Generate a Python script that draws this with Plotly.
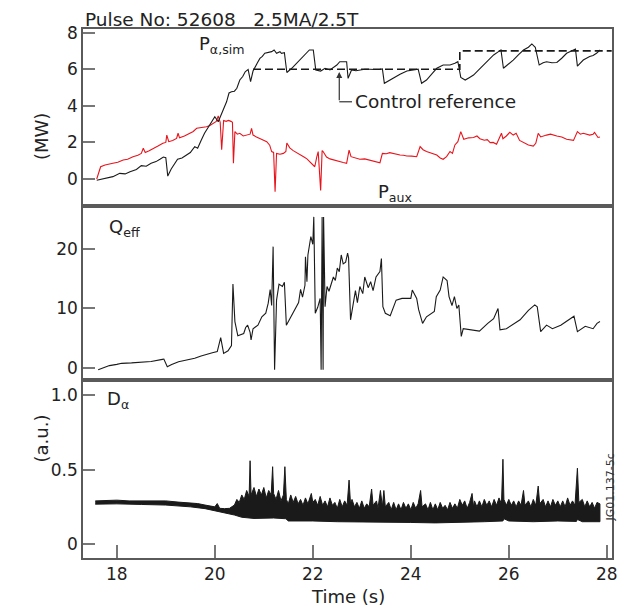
import plotly.graph_objects as go

# ---------------- data ----------------
PALPHA_T = [17.59, 17.75, 17.92, 18.06, 18.17, 18.27, 18.40, 18.50, 18.60, 18.70,
            18.80, 18.88, 18.95, 19.00, 19.04, 19.11, 19.18, 19.24, 19.33, 19.41,
            19.50, 19.59, 19.65, 19.72, 19.79, 19.86, 19.93, 20.00, 20.07, 20.12,
            20.17, 20.24, 20.29, 20.34, 20.40, 20.45, 20.51, 20.57, 20.62, 20.68,
            20.73, 20.78, 20.82, 20.87, 20.92, 20.97, 21.02, 21.09, 21.16, 21.21,
            21.26, 21.33, 21.36, 21.42, 21.47, 21.57, 21.67, 21.78, 21.88, 21.93,
            22.01, 22.06, 22.16, 22.25, 22.35, 22.42, 22.49, 22.55, 22.62, 22.69,
            22.72, 22.79, 22.88, 22.96, 23.06, 23.16, 23.26, 23.37, 23.42, 23.46,
            23.57, 23.68, 23.78, 23.92, 24.09, 24.15, 24.22, 24.32, 24.43, 24.53,
            24.66, 24.80, 24.90, 24.96, 25.02, 25.11, 25.20, 25.28, 25.38, 25.48,
            25.58, 25.69, 25.79, 25.84, 25.89, 25.99, 26.09, 26.20, 26.30, 26.40,
            26.47, 26.54, 26.62, 26.70, 26.77, 26.88, 26.98, 27.08, 27.18, 27.32,
            27.36, 27.40, 27.52, 27.65, 27.72, 27.79, 27.86]
PALPHA_V = [-0.07, 0.02, 0.13, 0.31, 0.28, 0.40, 0.52, 0.73, 0.70, 0.86,
            0.95, 1.08, 1.20, 1.17, 0.16, 0.55, 0.86, 1.08, 1.15, 1.31,
            1.45, 1.77, 1.68, 2.10, 2.50, 2.80, 3.13, 3.40, 3.13, 3.50,
            3.77, 4.22, 4.70, 4.77, 4.80, 4.96, 5.41, 5.60, 5.86, 5.99,
            5.32, 5.90, 6.14, 6.35, 6.59, 6.70, 6.87, 6.90, 6.96, 7.05,
            6.87, 6.96, 6.87, 6.90, 5.82, 6.05, 6.32, 6.60, 6.87, 7.05,
            7.05, 5.96, 5.90, 6.05, 5.96, 6.10, 6.23, 6.41, 6.41, 6.41,
            5.50, 5.96, 5.92, 5.96, 6.00, 6.00, 5.98, 6.00, 6.02, 5.23,
            5.41, 5.55, 5.72, 5.90, 5.96, 6.00, 5.23, 5.41, 5.75, 6.05,
            6.23, 6.23, 6.32, 6.41, 5.55, 5.41, 5.55, 5.68, 5.95, 6.23,
            6.50, 6.78, 6.96, 7.05, 6.05, 6.25, 6.50, 6.80, 7.05, 7.20,
            7.38, 7.20, 6.23, 6.35, 6.41, 6.35, 6.37, 6.60, 6.87, 7.05,
            7.10, 6.17, 6.50, 6.69, 6.75, 6.87, 7.05]

PAUX_T = [17.59, 17.63, 17.67, 17.76, 17.85, 17.92, 18.02, 18.13, 18.22, 18.33,
          18.43, 18.50, 18.54, 18.58, 18.66, 18.74, 18.84, 18.94, 19.00, 19.02,
          19.06, 19.14, 19.22, 19.25, 19.28, 19.38, 19.49, 19.56, 19.63, 19.73,
          19.83, 19.90, 19.97, 20.03, 20.07, 20.11, 20.14, 20.18, 20.23, 20.28,
          20.33, 20.36, 20.38, 20.41, 20.46, 20.51, 20.58, 20.65, 20.72, 20.75,
          20.78, 20.85, 20.92, 20.99, 21.06, 21.12, 21.16, 21.20, 21.23, 21.26,
          21.33, 21.40, 21.45, 21.47, 21.53, 21.60, 21.67, 21.74, 21.82, 21.88,
          21.94, 21.99, 22.04, 22.08, 22.11, 22.16, 22.19, 22.21, 22.28, 22.35,
          22.42, 22.48, 22.55, 22.62, 22.69, 22.74, 22.78, 22.87, 22.96, 23.06,
          23.16, 23.26, 23.37, 23.42, 23.50, 23.57, 23.68, 23.78, 23.85, 23.92,
          24.02, 24.12, 24.19, 24.25, 24.32, 24.42, 24.53, 24.60, 24.66, 24.73,
          24.80, 24.85, 24.90, 24.96, 25.02, 25.08, 25.18, 25.28, 25.35, 25.41,
          25.50, 25.56, 25.62, 25.68, 25.75, 25.85, 25.88, 25.95, 26.02, 26.09,
          26.15, 26.22, 26.30, 26.40, 26.50, 26.55, 26.60, 26.65, 26.77, 26.85,
          26.98, 27.08, 27.18, 27.25, 27.32, 27.40, 27.46, 27.52, 27.58, 27.65,
          27.72, 27.75, 27.82, 27.86]
PAUX_V = [0.00, 0.40, 0.67, 0.77, 0.80, 0.86, 0.92, 1.04, 1.08, 1.22,
          1.30, 1.40, 1.68, 1.45, 1.55, 1.68, 1.80, 1.95, 2.00, 2.40,
          2.04, 2.10, 2.22, 2.50, 2.25, 2.35, 2.50, 2.60, 2.77, 2.80,
          2.86, 2.92, 3.04, 3.15, 3.45, 3.10, 1.60, 3.20, 3.15, 3.20,
          3.15, 3.10, 0.86, 2.59, 2.45, 2.50, 2.35, 2.40, 2.45, 2.77,
          2.40, 2.30, 2.22, 2.15, 2.04, 1.85, 1.50, 1.45, -0.69, 1.40,
          1.35, 1.40, 1.50, 1.97, 1.70, 1.55, 1.45, 1.31, 1.20, 1.10,
          0.95, 0.85, 0.67, 1.20, 1.50, -0.62, 1.55, 1.50, 1.20, 1.10,
          1.04, 1.00, 0.95, 0.90, 0.86, 1.58, 1.22, 1.15, 1.08, 1.10,
          1.04, 0.98, 0.89, 1.40, 1.38, 1.44, 1.35, 1.31, 1.30, 1.26,
          1.25, 1.22, 1.77, 1.60, 1.50, 1.40, 1.31, 1.15, 1.08, 1.22,
          1.50, 1.40, 1.86, 2.04, 2.59, 2.17, 2.25, 2.27, 2.35, 2.20,
          2.12, 2.15, 1.99, 2.00, 1.90, 2.50, 2.20, 2.35, 2.55, 2.40,
          2.50, 2.11, 2.00, 1.86, 1.80, 1.95, 2.50, 2.30, 2.40, 2.45,
          2.35, 2.30, 2.17, 2.15, 2.11, 2.59, 2.45, 2.50, 2.45, 2.40,
          2.45, 2.55, 2.27, 2.30]

CONTROL_T = [20.78, 25.0, 25.0, 28.1]
CONTROL_V = [6.0, 6.0, 7.0, 7.0]

QEFF_T = [17.62, 17.75, 17.85, 18.00, 18.10, 18.30, 18.52, 18.70, 18.93, 18.96,
          19.03, 19.12, 19.26, 19.45, 19.59, 19.72, 19.84, 19.95, 20.05, 20.09,
          20.12, 20.18, 20.27, 20.34, 20.37, 20.41, 20.47, 20.59, 20.63, 20.67,
          20.72, 20.74, 20.78, 20.88, 20.96, 21.04, 21.09, 21.13, 21.16, 21.19,
          21.22, 21.26, 21.31, 21.38, 21.42, 21.46, 21.55, 21.67, 21.71, 21.75,
          21.79, 21.84, 21.85, 21.88, 21.90, 21.96, 22.00, 22.02, 22.03, 22.05,
          22.10, 22.15, 22.17, 22.19, 22.21, 22.22, 22.25, 22.29, 22.33, 22.42,
          22.46, 22.50, 22.54, 22.58, 22.62, 22.67, 22.71, 22.73, 22.77, 22.83,
          22.87, 22.91, 22.96, 23.02, 23.06, 23.13, 23.18, 23.23, 23.29, 23.37,
          23.40, 23.43, 23.48, 23.58, 23.70, 23.82, 24.00, 24.03, 24.12, 24.16,
          24.24, 24.32, 24.48, 24.52, 24.60, 24.66, 24.74, 24.78, 24.84, 24.89,
          24.94, 24.98, 25.03, 25.07, 25.24, 25.40, 25.57, 25.69, 25.78, 25.82,
          25.95, 26.07, 26.23, 26.40, 26.53, 26.58, 26.65, 26.77, 26.89, 27.06,
          27.22, 27.33, 27.40, 27.56, 27.72, 27.80, 27.86]
QEFF_V = [-0.30, 0.10, 0.40, 0.60, 0.78, 0.85, 0.95, 1.10, 1.45, 1.50,
          0.20, 0.60, 1.06, 1.35, 1.62, 2.00, 2.35, 2.55, 2.75, 4.15,
          5.10, 2.45, 2.90, 3.75, 14.1, 7.80, 5.40, 5.80, 6.80, 7.20,
          6.00, 4.70, 6.60, 7.20, 8.60, 9.20, 10.9, 13.2, 10.5, 20.4,
          -0.30, 11.4, 14.1, 13.7, 14.4, 7.20, 8.60, 10.3, 11.0, 13.2,
          11.9, 13.9, 18.7, 14.5, 19.0, 22.1, 20.8, 25.4, 20.0, 9.20,
          10.2, 11.7, -0.30, 25.4, -0.30, 25.4, 10.3, 13.7, 12.9, 15.3,
          14.7, 16.8, 16.2, 19.0, 17.5, 17.8, 19.3, 18.5, 8.10, 11.4,
          13.0, 11.0, 13.7, 12.5, 15.3, 13.5, 14.5, 13.0, 15.3, 16.2,
          18.4, 10.3, 9.20, 8.80, 11.4, 11.7, 11.7, 13.1, 11.7, 9.80,
          7.50, 8.60, 9.50, 12.0, 13.1, 15.3, 14.7, 12.0, 10.5, 12.0,
          10.0, 10.6, 5.30, 6.60, 6.40, 6.20, 7.50, 8.30, 10.0, 6.40,
          6.60, 7.20, 8.10, 9.70, 10.6, 10.3, 6.10, 7.20, 6.60, 7.20,
          8.10, 8.70, 6.10, 7.00, 6.60, 7.50, 7.80]

# D-alpha: upper and lower envelope of the dense signal band
DA_UP_T = [17.56, 17.80, 18.00, 18.25, 18.50, 18.75, 19.00, 19.25, 19.50, 19.65,
           19.80, 19.90, 20.00, 20.05, 20.10, 20.20, 20.30, 20.40, 20.45, 20.50,
           20.55, 20.60, 20.65, 20.70, 20.72, 20.74, 20.80, 20.85, 20.90, 20.95,
           21.00, 21.05, 21.10, 21.15, 21.18, 21.20, 21.25, 21.30, 21.35, 21.40,
           21.43, 21.46, 21.50, 21.55, 21.60, 21.65, 21.70, 21.75, 21.80, 21.85,
           21.90, 21.97, 22.00, 22.05, 22.10, 22.15, 22.20, 22.25, 22.30, 22.35,
           22.40, 22.45, 22.50, 22.55, 22.60, 22.65, 22.70, 22.74, 22.77, 22.80,
           22.85, 22.90, 22.95, 23.00, 23.05, 23.10, 23.15, 23.20, 23.23, 23.30,
           23.33, 23.38, 23.42, 23.45, 23.48, 23.55, 23.60, 23.65, 23.70, 23.75,
           23.80, 23.85, 23.90, 23.95, 24.00, 24.05, 24.10, 24.15, 24.20, 24.23,
           24.30, 24.35, 24.40, 24.45, 24.50, 24.55, 24.60, 24.65, 24.70, 24.75,
           24.80, 24.85, 24.90, 24.95, 25.00, 25.05, 25.10, 25.15, 25.20, 25.25,
           25.28, 25.30, 25.35, 25.40, 25.45, 25.50, 25.55, 25.60, 25.65, 25.70,
           25.75, 25.80, 25.85, 25.88, 25.90, 25.95, 26.00, 26.05, 26.10, 26.15,
           26.20, 26.25, 26.30, 26.33, 26.40, 26.45, 26.50, 26.55, 26.60, 26.63,
           26.70, 26.75, 26.80, 26.85, 26.90, 26.95, 27.00, 27.05, 27.10, 27.15,
           27.20, 27.25, 27.30, 27.35, 27.40, 27.43, 27.50, 27.55, 27.60, 27.65,
           27.70, 27.75, 27.80, 27.86]
DA_UP_V = [0.290, 0.292, 0.295, 0.290, 0.290, 0.288, 0.290, 0.282, 0.275, 0.272,
           0.262, 0.258, 0.250, 0.272, 0.240, 0.238, 0.240, 0.262, 0.300, 0.280,
           0.330, 0.300, 0.360, 0.320, 0.560, 0.330, 0.380, 0.320, 0.370, 0.330,
           0.380, 0.310, 0.360, 0.330, 0.520, 0.340, 0.300, 0.360, 0.290, 0.330,
           0.520, 0.300, 0.270, 0.330, 0.280, 0.320, 0.270, 0.300, 0.260, 0.310,
           0.270, 0.340, 0.280, 0.300, 0.260, 0.320, 0.260, 0.290, 0.250, 0.310,
           0.260, 0.280, 0.240, 0.300, 0.250, 0.290, 0.260, 0.430, 0.270, 0.300,
           0.250, 0.280, 0.240, 0.290, 0.240, 0.270, 0.250, 0.370, 0.260, 0.290,
           0.240, 0.360, 0.250, 0.360, 0.250, 0.280, 0.230, 0.280, 0.230, 0.270,
           0.230, 0.280, 0.240, 0.270, 0.230, 0.280, 0.240, 0.270, 0.360, 0.250,
           0.270, 0.230, 0.280, 0.230, 0.270, 0.230, 0.280, 0.240, 0.260, 0.230,
           0.280, 0.240, 0.270, 0.240, 0.300, 0.260, 0.290, 0.240, 0.280, 0.340,
           0.250, 0.290, 0.250, 0.290, 0.250, 0.300, 0.260, 0.290, 0.250, 0.300,
           0.260, 0.310, 0.270, 0.570, 0.300, 0.260, 0.300, 0.260, 0.290, 0.250,
           0.290, 0.260, 0.360, 0.260, 0.290, 0.250, 0.300, 0.260, 0.390, 0.270,
           0.300, 0.250, 0.290, 0.250, 0.300, 0.260, 0.290, 0.250, 0.290, 0.250,
           0.310, 0.260, 0.290, 0.260, 0.510, 0.280, 0.300, 0.250, 0.290, 0.250,
           0.280, 0.240, 0.280, 0.270]
DA_LO_T = [17.56, 18.00, 18.50, 19.00, 19.50, 19.80, 20.00, 20.20, 20.40, 20.55,
           20.80, 21.20, 21.45, 21.50, 22.00, 22.50, 23.00, 23.50, 24.00, 24.50,
           25.00, 25.50, 25.88, 25.90, 26.00, 26.50, 27.00, 27.38, 27.40, 27.50,
           27.86]
DA_LO_V = [0.268, 0.270, 0.266, 0.262, 0.250, 0.238, 0.222, 0.210, 0.195, 0.180,
           0.172, 0.175, 0.170, 0.155, 0.155, 0.150, 0.150, 0.145, 0.145, 0.142,
           0.145, 0.150, 0.155, 0.170, 0.155, 0.150, 0.155, 0.152, 0.165, 0.150,
           0.150]

X_TICKS = [18, 20, 22, 24, 26, 28]
Y1_TICKS = [0, 2, 4, 6, 8]
Y2_TICKS = [0, 10, 20]
Y3_TICKS = [0, 0.5, 1.0]
Y3_TICKTEXT = ["0", "0.5", "1.0"]

# ---------------- figure ----------------
FONT = "DejaVu Sans, Liberation Sans, Arial, sans-serif"
AX = "#5a5a5a"
BLACK = "#1a1a1a"
RED = "#e8141c"
TXT = "#222222"

fig = go.Figure()
fig.add_trace(go.Scatter(x=PAUX_T, y=PAUX_V, mode="lines",
                         line=dict(color=RED, width=1.1), xaxis="x", yaxis="y"))
fig.add_trace(go.Scatter(x=PALPHA_T, y=PALPHA_V, mode="lines",
                         line=dict(color=BLACK, width=1.1), xaxis="x", yaxis="y"))
fig.add_trace(go.Scatter(x=CONTROL_T, y=CONTROL_V, mode="lines",
                         line=dict(color=BLACK, width=1.6, dash="8px,4px"),
                         xaxis="x", yaxis="y"))
fig.add_trace(go.Scatter(x=QEFF_T, y=QEFF_V, mode="lines",
                         line=dict(color=BLACK, width=1.1), xaxis="x2", yaxis="y2"))
band_x = DA_UP_T + DA_LO_T[::-1]
band_y = DA_UP_V + DA_LO_V[::-1]
fig.add_trace(go.Scatter(x=band_x, y=band_y, mode="lines", fill="toself",
                         fillcolor=BLACK, line=dict(color=BLACK, width=1),
                         xaxis="x3", yaxis="y3"))

XR = [17.31, 28.106]
common_x = dict(range=XR, showline=True, mirror=True, linecolor=AX, linewidth=1.5,
                showgrid=False, zeroline=False, domain=[0, 1], automargin=False)
common_y = dict(showline=True, mirror=True, linecolor=AX, linewidth=1.5,
                showgrid=False, zeroline=False, ticks="inside", ticklen=12,
                tickwidth=1.5, tickcolor="#777", tickfont=dict(size=17, color=TXT),
                automargin=False)

# the page body adds an 8px offset, so margins are shifted to compensate
fig.update_layout(
    width=637, height=615,
    margin=dict(l=75, r=33, t=21, b=65, autoexpand=False),
    paper_bgcolor="white", plot_bgcolor="white",
    showlegend=False,
    font=dict(family=FONT, color=TXT),
    xaxis=dict(common_x, anchor="y", ticks="", showticklabels=False),
    xaxis2=dict(common_x, anchor="y2", ticks="", showticklabels=False),
    xaxis3=dict(common_x, anchor="y3", ticks="inside", ticklen=13, tickwidth=1.5,
                tickcolor="#777", tickvals=X_TICKS,
                tickfont=dict(size=17, color=TXT)),
    yaxis=dict(common_y, range=[-1.475, 8.197], tickvals=Y1_TICKS,
               domain=[0.6654, 1.0], anchor="x"),
    yaxis2=dict(common_y, range=[-2.02, 27.23], tickvals=Y2_TICKS,
                domain=[0.3365, 0.6654], anchor="x2"),
    yaxis3=dict(common_y, range=[-0.094, 1.103], tickvals=Y3_TICKS,
                ticktext=Y3_TICKTEXT, domain=[0.0, 0.3365], anchor="x3"),
)

ann = []
ann.append(dict(xref="paper", yref="paper", x=0.0, y=1.0, xanchor="left",
                yanchor="bottom", yshift=-3, showarrow=False,
                text="Pulse No: 52608\u00a0\u00a0\u00a02.5MA/2.5T",
                font=dict(size=18.5, color=TXT)))
ann.append(dict(xref="paper", yref="paper", x=-0.102, y=0.845, textangle=-90,
                showarrow=False, text="(MW)", font=dict(size=18, color=TXT)))
ann.append(dict(xref="paper", yref="paper", x=-0.102, y=0.176, textangle=-90,
                showarrow=False, text="(a.u.)", font=dict(size=18, color=TXT)))
ann.append(dict(xref="paper", yref="paper", x=0.5, y=-0.0737, yanchor="middle",
                showarrow=False, text="Time (s)", font=dict(size=18, color=TXT)))
ann.append(dict(xref="paper", yref="paper", x=1.013, y=0.066, textangle=-90,
                showarrow=False, text="JG01.137-5c", font=dict(size=11, color="#333")))
ann.append(dict(xref="x", yref="y", x=19.64, y=7.3, xanchor="left", yanchor="middle",
                showarrow=False, text="P<sub>α,sim</sub>", font=dict(size=18, color=TXT)))
ann.append(dict(xref="x", yref="y", x=23.29, y=-0.75, xanchor="left", yanchor="middle",
                showarrow=False, text="P<sub>aux</sub>", font=dict(size=18, color=TXT)))
ann.append(dict(xref="x2", yref="y2", x=17.79, y=23.5, xanchor="left", yanchor="middle",
                showarrow=False, text="Q<sub>eff</sub>", font=dict(size=18, color=TXT)))
ann.append(dict(xref="x3", yref="y3", x=17.76, y=0.97, xanchor="left", yanchor="middle",
                showarrow=False, text="D<sub>α</sub>", font=dict(size=18, color=TXT)))
# Control reference label with bent arrow
ann.append(dict(xref="x", yref="y", x=22.82, y=4.22, xanchor="left", yanchor="middle",
                showarrow=False, text="Control reference", font=dict(size=18.5, color=TXT)))
ann.append(dict(xref="x", yref="y", x=22.54, y=5.85, ax=22.54, ay=4.22,
                axref="x", ayref="y", text="", showarrow=True, arrowhead=2,
                arrowsize=1, arrowwidth=1.2, arrowcolor="#333"))
fig.update_layout(annotations=ann)
fig.add_shape(type="line", xref="x", yref="y", x0=22.54, x1=22.80, y0=4.22, y1=4.22,
              line=dict(color="#333", width=1.2))

fig.write_html("out.html")
